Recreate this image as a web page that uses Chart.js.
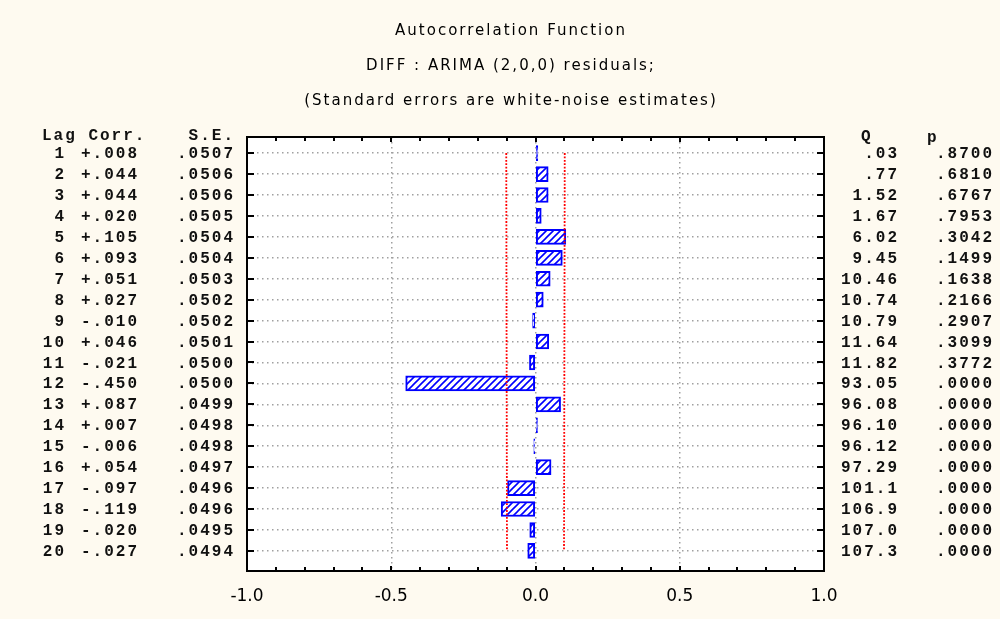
<!DOCTYPE html>
<html>
<head>
<meta charset="utf-8">
<title>Autocorrelation Function</title>
<script src="https://cdn.jsdelivr.net/npm/chart.js@4.4.0/dist/chart.umd.min.js"></script>
<style>
  html, body { margin: 0; padding: 0; background: #fefaf0; }
  canvas { display: block; }
</style>
</head>
<body>
<canvas id="acfChart" width="1000" height="619"></canvas>
<script>
var lags = [1, 2, 3, 4, 5, 6, 7, 8, 9, 10, 11, 12, 13, 14, 15, 16, 17, 18, 19, 20];
var corr = [0.008, 0.044, 0.044, 0.020, 0.105, 0.093, 0.051, 0.027, -0.010, 0.046,
            -0.021, -0.450, 0.087, 0.007, -0.006, 0.054, -0.097, -0.119, -0.020, -0.027];
var stdErr = [0.0507, 0.0506, 0.0506, 0.0505, 0.0504, 0.0504, 0.0503, 0.0502, 0.0502, 0.0501,
              0.0500, 0.0500, 0.0499, 0.0498, 0.0498, 0.0497, 0.0496, 0.0496, 0.0495, 0.0494];
var qStat = [0.03, 0.77, 1.52, 1.67, 6.02, 9.45, 10.46, 10.74, 10.79, 11.64,
             11.82, 93.05, 96.08, 96.10, 96.12, 97.29, 101.1, 106.9, 107.0, 107.3];
var pValue = [0.8700, 0.6810, 0.6767, 0.7953, 0.3042, 0.1499, 0.1638, 0.2166, 0.2907, 0.3099,
              0.3772, 0.0000, 0.0000, 0.0000, 0.0000, 0.0000, 0.0000, 0.0000, 0.0000, 0.0000];
var xLabels = [-1.0, -0.5, 0.0, 0.5, 1.0];
var titleLines = ['Autocorrelation Function',
                  'DIFF : ARIMA (2,0,0) residuals;',
                  '(Standard errors are white-noise estimates)'];

function noLead(s) {
    return s.replace(/^(-?)0\./, '$1.');
}
function fmtCorr(v) {
    return (v >= 0 ? '+' : '-') + noLead(Math.abs(v).toFixed(3));
}
function fmtQ(v) {
    return noLead(v >= 100 ? v.toFixed(1) : v.toFixed(2));
}
function isLabelled(v) {
    return xLabels.some(function (l) { return Math.abs(l - v) < 1e-9; });
}

// hatch fill for the bars
function makeHatch() {
    var s = 7;
    var c = document.createElement('canvas');
    c.width = s; c.height = s;
    var g = c.getContext('2d');
    g.fillStyle = '#ffffff';
    g.fillRect(0, 0, s, s);
    g.strokeStyle = '#0000ff';
    g.lineWidth = 1.6;
    g.beginPath();
    g.moveTo(-1, s + 1); g.lineTo(s + 1, -1);
    g.moveTo(-1, 1); g.lineTo(1, -1);
    g.moveTo(s - 1, s + 1); g.lineTo(s + 1, s - 1);
    g.stroke();
    return g.createPattern(c, 'repeat');
}

var mono = 'bold 16px "Liberation Mono", "DejaVu Sans Mono", monospace';
var gridGrey = '#a0a0a0';

var acfDecor = {
    id: 'acfDecor',
    beforeDraw: function (chart) {
        var ctx = chart.ctx, a = chart.chartArea;
        ctx.save();
        ctx.fillStyle = '#fefaf0';
        ctx.fillRect(0, 0, chart.width, chart.height);
        ctx.fillStyle = '#ffffff';
        ctx.fillRect(a.left, a.top, a.right - a.left, a.bottom - a.top);
        ctx.restore();
    },
    afterDraw: function (chart) {
        var ctx = chart.ctx, a = chart.chartArea;
        var xs = chart.scales.x, ys = chart.scales.y;
        ctx.save();

        // frame
        ctx.strokeStyle = '#000000';
        ctx.lineWidth = 2;
        ctx.strokeRect(a.left, a.top, a.right - a.left, a.bottom - a.top);

        // inward ticks
        ctx.beginPath();
        xs.ticks.forEach(function (t) {
            var px = Math.round(xs.getPixelForValue(t.value));
            var len = isLabelled(t.value) ? 5 : 4;
            ctx.moveTo(px, a.top); ctx.lineTo(px, a.top + len);
            ctx.moveTo(px, a.bottom); ctx.lineTo(px, a.bottom - len);
        });
        ctx.stroke();
        ctx.beginPath();
        lags.forEach(function (l) {
            var py = Math.round(ys.getPixelForValue(l));
            ctx.moveTo(a.left, py); ctx.lineTo(a.left + 7, py);
            ctx.moveTo(a.right, py); ctx.lineTo(a.right - 7, py);
        });
        ctx.stroke();

        // title
        ctx.fillStyle = '#000000';
        ctx.font = '15px "DejaVu Sans", sans-serif';
        ctx.letterSpacing = '2px';
        ctx.textAlign = 'center';
        ctx.textBaseline = 'middle';
        titleLines.forEach(function (line, i) {
            ctx.fillText(line, 511, 31 + i * 35);
        });

        // table columns
        ctx.font = mono;
        ctx.fillStyle = '#111111';
        ctx.textAlign = 'left';
        ctx.fillText('Lag Corr.', 42, 136);
        ctx.fillText('Q', 861, 137);
        ctx.fillText('p', 927, 138);
        ctx.textAlign = 'right';
        ctx.fillText('S.E.', 235, 136);
        lags.forEach(function (l, i) {
            var py = ys.getPixelForValue(l) + 1;
            ctx.fillText(String(l), 66, py);
            ctx.fillText(fmtCorr(corr[i]), 139, py);
            ctx.fillText(noLead(stdErr[i].toFixed(4)), 235, py);
            ctx.fillText(fmtQ(qStat[i]), 899, py);
            ctx.fillText(noLead(pValue[i].toFixed(4)), 994, py);
        });
        ctx.restore();
    }
};

var ctx = document.getElementById('acfChart').getContext('2d');
var acfChart = new Chart(ctx, {
    type: 'bar',
    data: {
        datasets: [{
            type: 'line',
            data: lags.map(function (l, i) { return { x: 2 * stdErr[i], y: l }; }),
            borderColor: '#ff0000',
            borderWidth: 1.8,
            borderDash: [1.8, 1.6],
            pointRadius: 0,
            fill: false
        }, {
            type: 'line',
            data: lags.map(function (l, i) { return { x: -2 * stdErr[i], y: l }; }),
            borderColor: '#ff0000',
            borderWidth: 1.8,
            borderDash: [1.8, 1.6],
            pointRadius: 0,
            fill: false
        }, {
            data: lags.map(function (l, i) { return { x: corr[i], y: l }; }),
            backgroundColor: makeHatch(),
            borderColor: '#0000ff',
            borderWidth: 2,
            borderSkipped: false,
            barThickness: 15
        }]
    },
    options: {
        indexAxis: 'y',
        responsive: false,
        animation: false,
        devicePixelRatio: 1,
        layout: { padding: { left: 247, right: 176, top: 137, bottom: 0 } },
        plugins: {
            legend: { display: false },
            tooltip: { enabled: false }
        },
        scales: {
            x: {
                type: 'linear',
                min: -1,
                max: 1,
                afterFit: function (scale) { scale.height = 48; },
                ticks: {
                    stepSize: 0.1,
                    autoSkip: false,
                    maxRotation: 0,
                    padding: 15,
                    color: '#000000',
                    font: { family: '"DejaVu Sans", sans-serif', size: 17 },
                    callback: function (v) { return isLabelled(v) ? v.toFixed(1) : ''; }
                },
                grid: {
                    drawTicks: false,
                    color: function (c) {
                        var v = c.tick ? c.tick.value : 0;
                        return (isLabelled(v) && Math.abs(v) < 0.99) ? gridGrey : 'rgba(0,0,0,0)';
                    },
                    lineWidth: 1.5
                },
                border: { display: false, dash: [1.5, 3.5] }
            },
            y: {
                type: 'linear',
                reverse: true,
                offset: false,
                min: 0.23,
                max: 20.96,
                afterFit: function (scale) { scale.width = 0; },
                afterBuildTicks: function (scale) {
                    scale.ticks = lags.map(function (l) { return { value: l }; });
                },
                ticks: { display: false },
                grid: { offset: false, drawTicks: false, color: gridGrey, lineWidth: 1.5 },
                border: { display: false, dash: [1.5, 3.5] }
            }
        }
    },
    plugins: [acfDecor]
});
</script>
</body>
</html>
